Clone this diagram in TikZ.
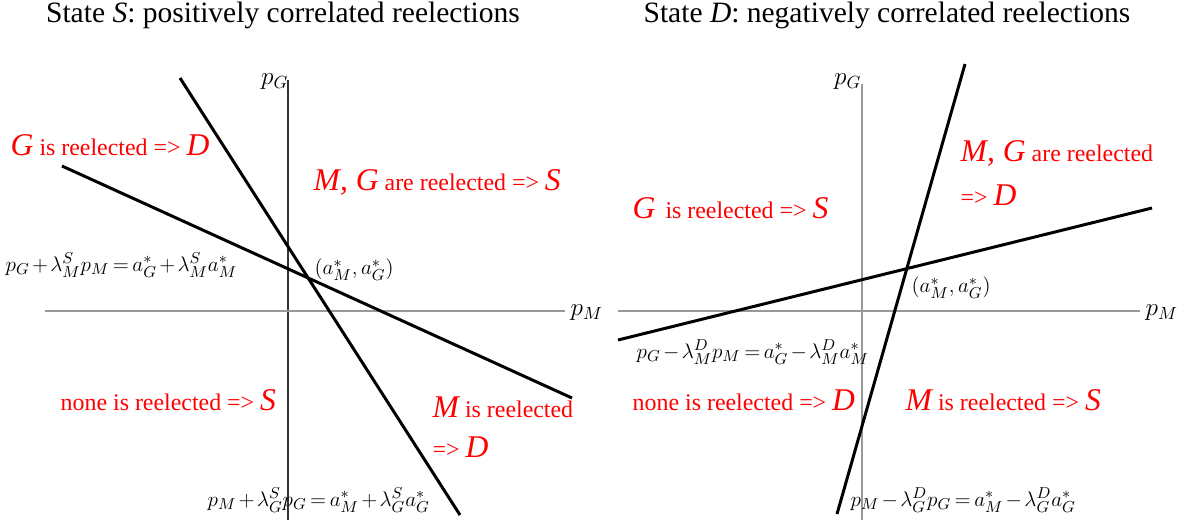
\documentclass[tikz,border=0pt]{standalone}
\usepackage{fontspec}
\setmainfont{Liberation Serif}
\usetikzlibrary{calc}

\newcommand{\bigit}[1]{{\fontsize{18}{20}\selectfont\itshape #1}}
\newcommand{\tighteq}{\medmuskip=2mu\thickmuskip=3mu}

\begin{document}
\begin{tikzpicture}[x=0.02cm, y=-0.02cm, thick,
    axish/.style={draw=gray!80, line width=1.1pt},
    axisv/.style={draw=black!80, line width=0.6pt},
    border/.style={line width=1.7pt},
    heading/.style={font=\fontsize{16.8}{19}\selectfont, inner sep=0pt},
    region/.style={text=red, font=\fontsize{13.6}{16}\selectfont, inner sep=0pt, anchor=west},
    eqn/.style={font=\fontsize{13}{15}\selectfont\tighteq, inner sep=0pt, anchor=west},
    point/.style={font=\fontsize{12.5}{14}\selectfont, inner sep=0pt, anchor=west},
    axlbl/.style={font=\fontsize{14}{16}\selectfont, inner sep=0pt}]

    \useasboundingbox (0,0) rectangle (1179,522);

    % ---- State S ----
    \node[heading] (Stitle) at (283,15) {State \textit{S}: positively correlated reelections};

    % Axes
    \coordinate (Sytop) at (288,80);
    \coordinate (Sybot) at (288,520);
    \coordinate (Sxl) at (45,311);
    \coordinate (Sxr) at (565,311);
    \draw[axisv] (Sytop) -- (Sybot);
    \draw[axish] (Sxl) -- (Sxr);
    \node[axlbl, anchor=east] (SpG) at ($(Sytop)+(1,2)$) {$p_G$};
    \node[axlbl, anchor=west] (SpM) at ($(Sxr)+(5,2)$) {$p_M$};

    % Boundaries
    \coordinate (SGa) at (180,78);
    \coordinate (SGb) at (460,515);
    \coordinate (SMa) at (62,166);
    \coordinate (SMb) at (572,398);
    \draw[border] (SGa) -- (SGb);
    \draw[border] (SMa) -- (SMb);

    \node[point] (Sstar) at (314,270) {$(a^*_M,a^*_G)$};
    \node[eqn] (SeqM) at (5,265) {$p_G+\lambda^S_M p_M=a^*_G+\lambda^S_M a^*_M$};
    \node[eqn] (SeqG) at (207,500) {$p_M+\lambda^S_G p_G=a^*_M+\lambda^S_G a^*_G$};

    % Regions
    \node[region] (SnwG) at (10,145) {\bigit{G} is reelected => \bigit{D}};
    \node[region] (SneMG) at (313,182) {\bigit{M, G} are reelected => \bigit{S}};
    \node[region] (Sswnone) at (60,400) {none is reelected => \bigit{S}};
    \node[region] (SseM) at (432,407) {\bigit{M} is reelected};
    \node[region] (SseD) at (432,447) {=> \bigit{D}};

    % ---- State D ----
    \node[heading] (Dtitle) at (887,15) {State \textit{D}: negatively correlated reelections};

    % Axes
    \coordinate (Dytop) at (862,84);
    \coordinate (Dybot) at (862,520);
    \coordinate (Dxl) at (618,311);
    \coordinate (Dxr) at (1140,311);
    \draw[axish, line width=0.8pt] (Dytop) -- (Dybot);
    \draw[axish] (Dxl) -- (Dxr);
    \node[axlbl, anchor=east] (DpG) at ($(Dytop)+(0,-2)$) {$p_G$};
    \node[axlbl, anchor=west] (DpM) at ($(Dxr)+(5,2)$) {$p_M$};

    % Boundaries
    \coordinate (DGa) at (965,64);
    \coordinate (DGb) at (837,514);
    \coordinate (DMa) at (618,340);
    \coordinate (DMb) at (1152,208);
    \draw[border] (DGa) -- (DGb);
    \draw[border] (DMa) -- (DMb);

    \node[point] (Dstar) at (911,288) {$(a^*_M,a^*_G)$};
    \node[eqn] (DeqM) at (636,352) {$p_G-\lambda^D_M p_M=a^*_G-\lambda^D_M a^*_M$};
    \node[eqn] (DeqG) at (850,500) {$p_M-\lambda^D_G p_G=a^*_M-\lambda^D_G a^*_G$};

    % Regions
    \node[region] (DnwG) at (632,208) {\bigit{G}\, is reelected => \bigit{S}};
    \node[region] (DneMG) at (960,153) {\bigit{M, G} are reelected};
    \node[region] (DneD) at (960,195) {=> \bigit{D}};
    \node[region] (Dswnone) at (632,400) {none is reelected => \bigit{D}};
    \node[region] (DseM) at (905,400) {\bigit{M} is reelected => \bigit{S}};

\end{tikzpicture}
\end{document}
